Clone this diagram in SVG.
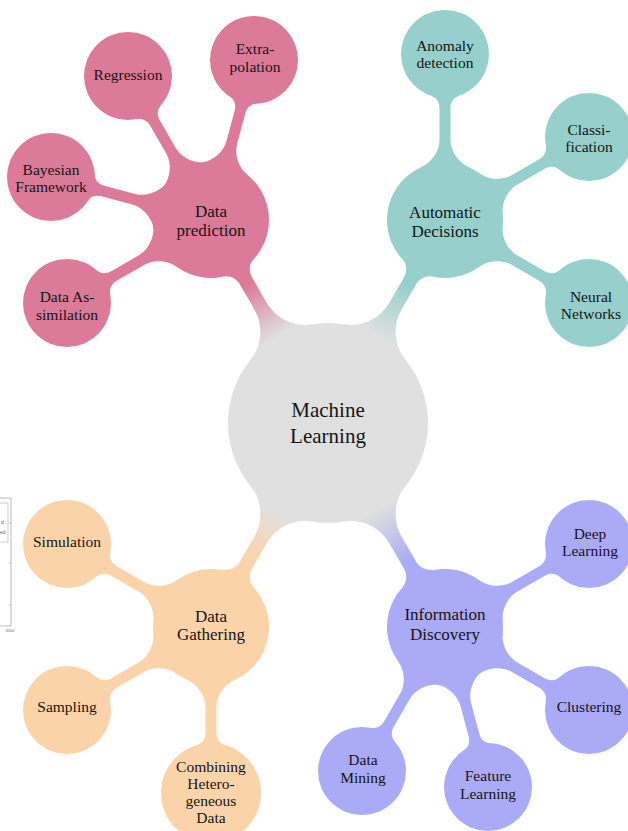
<svg xmlns="http://www.w3.org/2000/svg" width="628" height="831" viewBox="0 0 628 831">
<style>
.t{font-family:"Liberation Serif","DejaVu Serif",serif;text-anchor:middle;fill:#151515}
.c{font-size:15.5px}
.m{font-size:17px}
.r{font-size:21px}
.pink{fill:#DC7A9A}
.teal{fill:#96CFCC}
.peach{fill:#FBD3A9}
.violet{fill:#AAAAF7}
.gray{fill:#E0E0E0}
.ax{stroke:#8a8a8a;stroke-width:0.6;fill:none}
.tiny{font-family:"Liberation Sans",Arial,sans-serif;fill:#666}
</style>
<defs>
<path id="cbar" d="M0 0 L53 -23.5 C57.05 -14.36 68 -5.5 80 -5.5 L112 -5.5 C118 -5.5 122.6 -8.74 124.1 -13.5 L166 0 L124.1 13.5 C122.6 8.74 118 5.5 112 5.5 L80 5.5 C68 5.5 57.05 14.36 53 23.5 Z"/>
<path id="cbar50" d="M0 0 L53 -23.5 C57.05 -14.36 68 -5.5 80 -5.5 L106 -5.5 C112 -5.5 116.55 -8.7 117.9 -13.5 L166 0 L117.9 13.5 C116.55 8.7 112 5.5 106 5.5 L80 5.5 C68 5.5 57.05 14.36 53 23.5 Z"/>
<path id="mbar" d="M0 0 L93.7 -35 C99.3 -20 115 -7 135 -7 L164 -7 C171 -7 177.1 -11.26 178.85 -17 L234.3 0 L178.85 17 C177.1 11.26 171 7 164 7 L135 7 C115 7 99.3 20 93.7 35 Z"/>
<linearGradient id="gPink" gradientUnits="userSpaceOnUse" x1="100" y1="0" x2="160" y2="0"><stop offset="0" stop-color="#E0E0E0"/><stop offset="1" stop-color="#DC7A9A"/></linearGradient>
<linearGradient id="gTeal" gradientUnits="userSpaceOnUse" x1="100" y1="0" x2="160" y2="0"><stop offset="0" stop-color="#E0E0E0"/><stop offset="1" stop-color="#96CFCC"/></linearGradient>
<linearGradient id="gPeach" gradientUnits="userSpaceOnUse" x1="100" y1="0" x2="160" y2="0"><stop offset="0" stop-color="#E0E0E0"/><stop offset="1" stop-color="#FBD3A9"/></linearGradient>
<linearGradient id="gViolet" gradientUnits="userSpaceOnUse" x1="100" y1="0" x2="160" y2="0"><stop offset="0" stop-color="#E0E0E0"/><stop offset="1" stop-color="#AAAAF7"/></linearGradient>
</defs>
<rect width="628" height="831" fill="#ffffff"/>

<g id="chart-fragment">
<rect x="-10" y="503" width="18" height="39" fill="#fff" stroke="#9a9a9a" stroke-width="0.5"/>
<line class="ax" x1="0" y1="498" x2="11" y2="498"/>
<line class="ax" x1="11" y1="498" x2="11" y2="626"/>
<line class="ax" x1="0" y1="626" x2="11" y2="626"/>
<line class="ax" x1="9.5" y1="523" x2="11" y2="523"/>
<line class="ax" x1="9.5" y1="563" x2="11" y2="563"/>
<line class="ax" x1="9.5" y1="605" x2="11" y2="605"/>
<text class="tiny" x="1" y="524" font-size="5">d</text>
<text class="tiny" x="0" y="534" font-size="5">ed</text>
<text class="tiny" x="10" y="632" font-size="4" text-anchor="middle">3500</text>
</g>

<g id="connectors">
<use href="#mbar" transform="translate(328 423) rotate(-120)" fill="url(#gPink)"/>
<use href="#mbar" transform="translate(328 423) rotate(-60)" fill="url(#gTeal)"/>
<use href="#mbar" transform="translate(328 423) rotate(120)" fill="url(#gPeach)"/>
<use href="#mbar" transform="translate(328 423) rotate(60)" fill="url(#gViolet)"/>

<use href="#cbar" class="pink" transform="translate(211 220) rotate(-75)"/>
<use href="#cbar" class="pink" transform="translate(211 220) rotate(-120)"/>
<use href="#cbar" class="pink" transform="translate(211 220) rotate(-165)"/>
<use href="#cbar" class="pink" transform="translate(211 220) rotate(150)"/>

<use href="#cbar" class="teal" transform="translate(445 220) rotate(-90)"/>
<use href="#cbar" class="teal" transform="translate(445 220) rotate(-30)"/>
<use href="#cbar" class="teal" transform="translate(445 220) rotate(30)"/>

<use href="#cbar" class="peach" transform="translate(211 627) rotate(-150)"/>
<use href="#cbar" class="peach" transform="translate(211 627) rotate(150)"/>
<use href="#cbar50" class="peach" transform="translate(211 627) rotate(90)"/>

<use href="#cbar" class="violet" transform="translate(445 627) rotate(-30)"/>
<use href="#cbar" class="violet" transform="translate(445 627) rotate(30)"/>
<use href="#cbar" class="violet" transform="translate(445 627) rotate(75)"/>
<use href="#cbar" class="violet" transform="translate(445 627) rotate(120)"/>
</g>

<g id="machine-learning">
<circle class="gray" cx="328" cy="423" r="100"/>
<text class="t r" x="328" y="417">Machine</text>
<text class="t r" x="328" y="443">Learning</text>
</g>

<g id="data-prediction">
<circle class="pink" cx="211" cy="220" r="58"/>
<text class="t m" x="211" y="217">Data</text>
<text class="t m" x="211" y="236">prediction</text>
</g>
<g id="extrapolation">
<circle class="pink" cx="254" cy="60" r="44"/>
<text class="t c" x="255" y="54">Extra-</text>
<text class="t c" x="255" y="72">polation</text>
</g>
<g id="regression">
<circle class="pink" cx="128" cy="76" r="44"/>
<text class="t c" x="128" y="80">Regression</text>
</g>
<g id="bayesian-framework">
<circle class="pink" cx="51" cy="177" r="44"/>
<text class="t c" x="51" y="175">Bayesian</text>
<text class="t c" x="51" y="192">Framework</text>
</g>
<g id="data-assimilation">
<circle class="pink" cx="67" cy="303" r="44"/>
<text class="t c" x="67" y="302">Data As-</text>
<text class="t c" x="67" y="320">similation</text>
</g>

<g id="automatic-decisions">
<circle class="teal" cx="445" cy="220" r="58"/>
<text class="t m" x="445" y="218">Automatic</text>
<text class="t m" x="445" y="237">Decisions</text>
</g>
<g id="anomaly-detection">
<circle class="teal" cx="445" cy="54" r="44"/>
<text class="t c" x="445" y="51">Anomaly</text>
<text class="t c" x="445" y="68">detection</text>
</g>
<g id="classification">
<circle class="teal" cx="589" cy="137" r="44"/>
<text class="t c" x="589" y="135">Classi-</text>
<text class="t c" x="589" y="152">fication</text>
</g>
<g id="neural-networks">
<circle class="teal" cx="589" cy="303" r="44"/>
<text class="t c" x="591" y="302">Neural</text>
<text class="t c" x="591" y="319">Networks</text>
</g>

<g id="data-gathering">
<circle class="peach" cx="211" cy="627" r="58"/>
<text class="t m" x="211" y="622">Data</text>
<text class="t m" x="211" y="640">Gathering</text>
</g>
<g id="simulation">
<circle class="peach" cx="67" cy="544" r="44"/>
<text class="t c" x="67" y="547">Simulation</text>
</g>
<g id="sampling">
<circle class="peach" cx="67" cy="710" r="44"/>
<text class="t c" x="67" y="712">Sampling</text>
</g>
<g id="combining-heterogeneous-data">
<circle class="peach" cx="211" cy="793" r="50"/>
<text class="t c" x="211" y="772">Combining</text>
<text class="t c" x="211" y="789">Hetero-</text>
<text class="t c" x="211" y="806">geneous</text>
<text class="t c" x="211" y="823">Data</text>
</g>

<g id="information-discovery">
<circle class="violet" cx="445" cy="627" r="58"/>
<text class="t m" x="445" y="620">Information</text>
<text class="t m" x="445" y="640">Discovery</text>
</g>
<g id="deep-learning">
<circle class="violet" cx="589" cy="544" r="44"/>
<text class="t c" x="590" y="539">Deep</text>
<text class="t c" x="590" y="556">Learning</text>
</g>
<g id="clustering">
<circle class="violet" cx="589" cy="710" r="44"/>
<text class="t c" x="589" y="712">Clustering</text>
</g>
<g id="feature-learning">
<circle class="violet" cx="488" cy="787" r="44"/>
<text class="t c" x="488" y="781">Feature</text>
<text class="t c" x="488" y="799">Learning</text>
</g>
<g id="data-mining">
<circle class="violet" cx="362" cy="771" r="44"/>
<text class="t c" x="363" y="765">Data</text>
<text class="t c" x="363" y="783">Mining</text>
</g>
</svg>
